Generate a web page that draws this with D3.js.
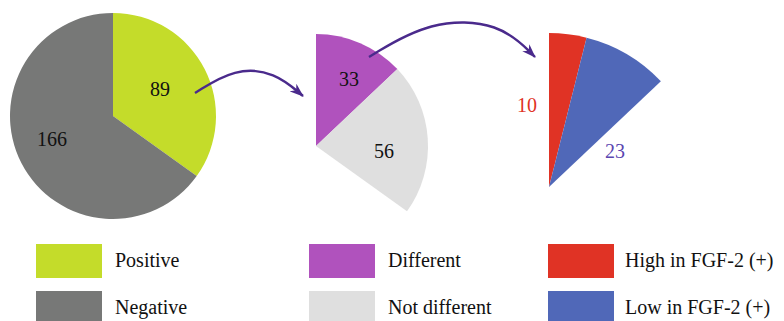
<!DOCTYPE html>
<html>
<head>
<meta charset="utf-8">
<script src="https://cdn.jsdelivr.net/npm/d3@7"></script>
<style>
  body { margin: 0; background: #fff; }
</style>
</head>
<body>
<div class="graph"></div>
<script>
// data
var total = 255;
var stage1Labels = ["Positive", "Negative"];
var stage1Values = [89, 166];
var stage2Labels = ["Different", "Not different"];
var stage2Values = [33, 56];
var stage3Labels = ["High in FGF-2 (+)", "Low in FGF-2 (+)"];
var stage3Values = [10, 23];

var stage1Colors = ["#c4dc2a", "#777877"];
var stage2Colors = ["#b052bd", "#dfdfdf"];
var stage3Colors = ["#e03325", "#5068b8"];

var width = 784, height = 321;
var fontFam = "'Liberation Serif', 'Times New Roman', serif";

var svg = d3.select(".graph").append("svg")
    .attr("width", width)
    .attr("height", height);

// arrow head
svg.append("defs").append("marker")
    .attr("id", "head")
    .attr("viewBox", "0 0 14 10")
    .attr("refX", 13).attr("refY", 5)
    .attr("markerWidth", 14).attr("markerHeight", 10)
    .attr("markerUnits", "userSpaceOnUse")
    .attr("orient", "auto")
  .append("path")
    .attr("d", "M0,0 L14,5 L0,10 L4,5 Z")
    .attr("fill", "#4a2a8c");

function drawPie(cx, cy, r, values, colors, labelPos, labelColors) {
  var sum = d3.sum(values);
  var pie = d3.pie().sort(null)
      .startAngle(0)
      .endAngle(2 * Math.PI * sum / total);
  var arc = d3.arc().innerRadius(0).outerRadius(r);
  var g = svg.append("g").attr("transform", "translate(" + cx + "," + cy + ")");
  var arcs = pie(values);
  g.selectAll("path").data(arcs).enter().append("path")
      .attr("d", arc)
      .attr("fill", function(d, i) { return colors[i]; });
  g.selectAll("text").data(arcs).enter().append("text")
      .attr("x", function(d, i) { return labelPos[i][0]; })
      .attr("y", function(d, i) { return labelPos[i][1]; })
      .attr("text-anchor", "middle")
      .attr("dy", "0.35em")
      .attr("font-family", fontFam)
      .attr("font-size", 20)
      .attr("fill", function(d, i) { return labelColors[i]; })
      .text(function(d) { return d.data; });
}

// label offsets relative to each centre
drawPie(113, 116, 103, stage1Values, stage1Colors, [[47, -27], [-61, 23]], ["#111", "#111"]);
drawPie(316, 146, 112, stage2Values, stage2Colors, [[33, -67], [68, 5]], ["#111", "#111"]);
drawPie(549, 187, 154, stage3Values, stage3Colors, [[-22, -82], [66, -36]], ["#e03325", "#5a45b0"]);

// arrows
var line = d3.line().curve(d3.curveBasis);
svg.append("path")
    .attr("d", line([[195, 93], [235, 68], [275, 72], [303, 96]]))
    .attr("fill", "none")
    .attr("stroke", "#4a2a8c")
    .attr("stroke-width", 2.4)
    .attr("marker-end", "url(#head)");
svg.append("path")
    .attr("d", line([[369, 57], [430, 20], [500, 22], [535, 57]]))
    .attr("fill", "none")
    .attr("stroke", "#4a2a8c")
    .attr("stroke-width", 2.4)
    .attr("marker-end", "url(#head)");

// legend
var legendCols = [
  {x: 36, tx: 115, labels: stage1Labels, colors: stage1Colors},
  {x: 309, tx: 388, labels: stage2Labels, colors: stage2Colors},
  {x: 548, tx: 625, labels: stage3Labels, colors: stage3Colors}
];
var rowY = [244, 291];
legendCols.forEach(function(col) {
  col.labels.forEach(function(lab, i) {
    svg.append("rect")
        .attr("x", col.x).attr("y", rowY[i])
        .attr("width", 66).attr("height", 34)
        .attr("fill", col.colors[i]);
    svg.append("text")
        .attr("x", col.tx).attr("y", rowY[i] + 23)
        .attr("font-family", fontFam)
        .attr("font-size", 20)
        .attr("fill", "#111")
        .text(lab);
  });
});
</script>
</body>
</html>
